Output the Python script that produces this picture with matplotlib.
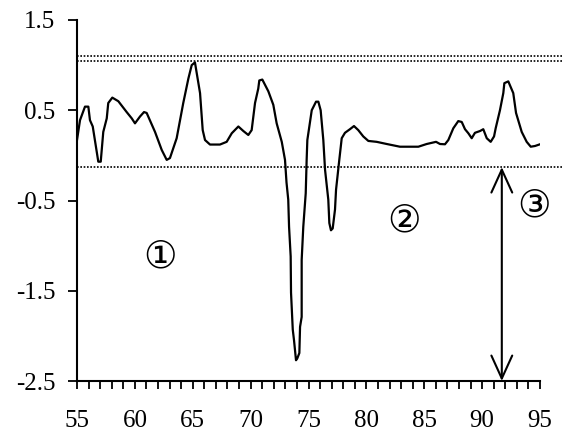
import matplotlib.pyplot as plt
from matplotlib.ticker import MultipleLocator

# curve
x = [55.0, 55.26, 55.69, 55.98, 56.12, 56.36, 56.84, 57.05, 57.27, 57.57,
     57.70, 58.05, 58.57, 59.29, 59.73, 60.01, 60.44, 60.79, 61.02, 61.74,
     62.32, 62.75, 63.03, 63.61, 64.18, 64.62, 64.91, 65.19, 65.63, 65.86,
     66.06, 66.49, 67.35, 67.93, 68.37, 68.94, 69.37, 69.80, 70.09, 70.38,
     70.66, 70.75, 71.01, 71.53, 71.96, 72.25, 72.69, 72.97, 73.10, 73.25,
     73.32, 73.46, 73.49, 73.64, 73.75, 73.92, 74.03, 74.21, 74.27, 74.41,
     74.41, 74.55, 74.76, 74.84, 74.90, 75.28, 75.65, 75.85, 76.05, 76.28,
     76.43, 76.71, 76.80, 76.94, 77.09, 77.29, 77.38, 77.66, 77.87, 78.15,
     78.58, 78.93, 79.30, 79.73, 80.17, 80.89, 81.76, 82.90, 84.49, 85.21,
     86.02, 86.36, 86.79, 87.08, 87.51, 87.94, 88.24, 88.52, 88.81, 89.10,
     89.38, 89.82, 90.10, 90.40, 90.74, 91.03, 91.17, 91.54, 91.83, 91.92,
     92.26, 92.69, 92.93, 93.42, 93.85, 94.20, 94.57, 95.0]
y = [0.17, 0.39, 0.54, 0.54, 0.39, 0.32, -0.07, -0.07, 0.26, 0.41,
     0.58, 0.64, 0.60, 0.48, 0.41, 0.355, 0.43, 0.48, 0.47, 0.26,
     0.06, -0.05, -0.03, 0.19, 0.58, 0.85, 1.00, 1.03, 0.69, 0.28,
     0.17, 0.12, 0.12, 0.15, 0.245, 0.32, 0.27, 0.226, 0.28, 0.58,
     0.74, 0.83, 0.84, 0.71, 0.56, 0.355, 0.15, -0.05, -0.30, -0.49,
     -0.79, -1.12, -1.52, -1.93, -2.05, -2.27, -2.25, -2.19, -1.90, -1.79,
     -1.16, -0.79, -0.42, -0.05, 0.17, 0.50, 0.595, 0.595, 0.50, 0.17,
     -0.16, -0.49, -0.75, -0.83, -0.81, -0.60, -0.38, -0.05, 0.19, 0.25,
     0.29, 0.325, 0.28, 0.21, 0.16, 0.15, 0.126, 0.096, 0.096, 0.126,
     0.15, 0.126, 0.123, 0.17, 0.30, 0.38, 0.37, 0.29, 0.245, 0.19,
     0.25, 0.27, 0.29, 0.19, 0.15, 0.21, 0.30, 0.50, 0.69, 0.80,
     0.82, 0.69, 0.47, 0.26, 0.15, 0.096, 0.104, 0.123]

upper_levels = [1.105, 1.045]
lower_level = -0.13
arrow_x = 91.7

labels = ["①", "②", "③"]
label_x = [62.2, 83.25, 94.5]
label_y = [-1.13, -0.73, -0.57]

yticks = [1.5, 0.5, -0.5, -1.5, -2.5]
ytick_labels = ["1.5", "0.5", "-0.5", "-1.5", "-2.5"]

plt.rcParams["font.family"] = ["Liberation Serif", "DejaVu Sans"]

fig = plt.figure(figsize=(5.63, 4.37), dpi=100)
ax = fig.add_axes([77 / 563, 1 - 381 / 437, 463 / 563, 361 / 437])

ax.plot(x, y, color="black", lw=1.6)

# dotted reference lines run past the right end of the axis
for lv in upper_levels + [lower_level]:
    ax.plot([55, 97], [lv, lv], color="black", lw=1.2,
            linestyle=(0, (1, 1)), clip_on=False)

ax.annotate("", xy=(arrow_x, lower_level), xytext=(arrow_x, -2.5),
            arrowprops=dict(arrowstyle="<->,head_length=1.65,head_width=0.75",
                            color="black", lw=1.5, shrinkA=0, shrinkB=0,
                            mutation_scale=10))

for s, lx, ly in zip(labels, label_x, label_y):
    ax.text(lx, ly, s, ha="center", va="center", fontsize=27,
            family="DejaVu Sans")

ax.set_xlim(55, 95)
ax.set_ylim(-2.5, 1.5)
ax.xaxis.set_major_locator(MultipleLocator(5))
ax.xaxis.set_minor_locator(MultipleLocator(1))
ax.set_yticks(yticks)
ax.set_yticklabels(ytick_labels)

for side in ["top", "right"]:
    ax.spines[side].set_visible(False)
for side in ["left", "bottom"]:
    ax.spines[side].set_linewidth(1.5)

ax.tick_params(axis="x", which="both", direction="out", length=6, width=1.3,
               labelsize=18, pad=15)
ax.tick_params(axis="y", direction="out", length=6.5, width=1.3,
               labelsize=18, pad=9)

fig.savefig("out.png", dpi=100)
